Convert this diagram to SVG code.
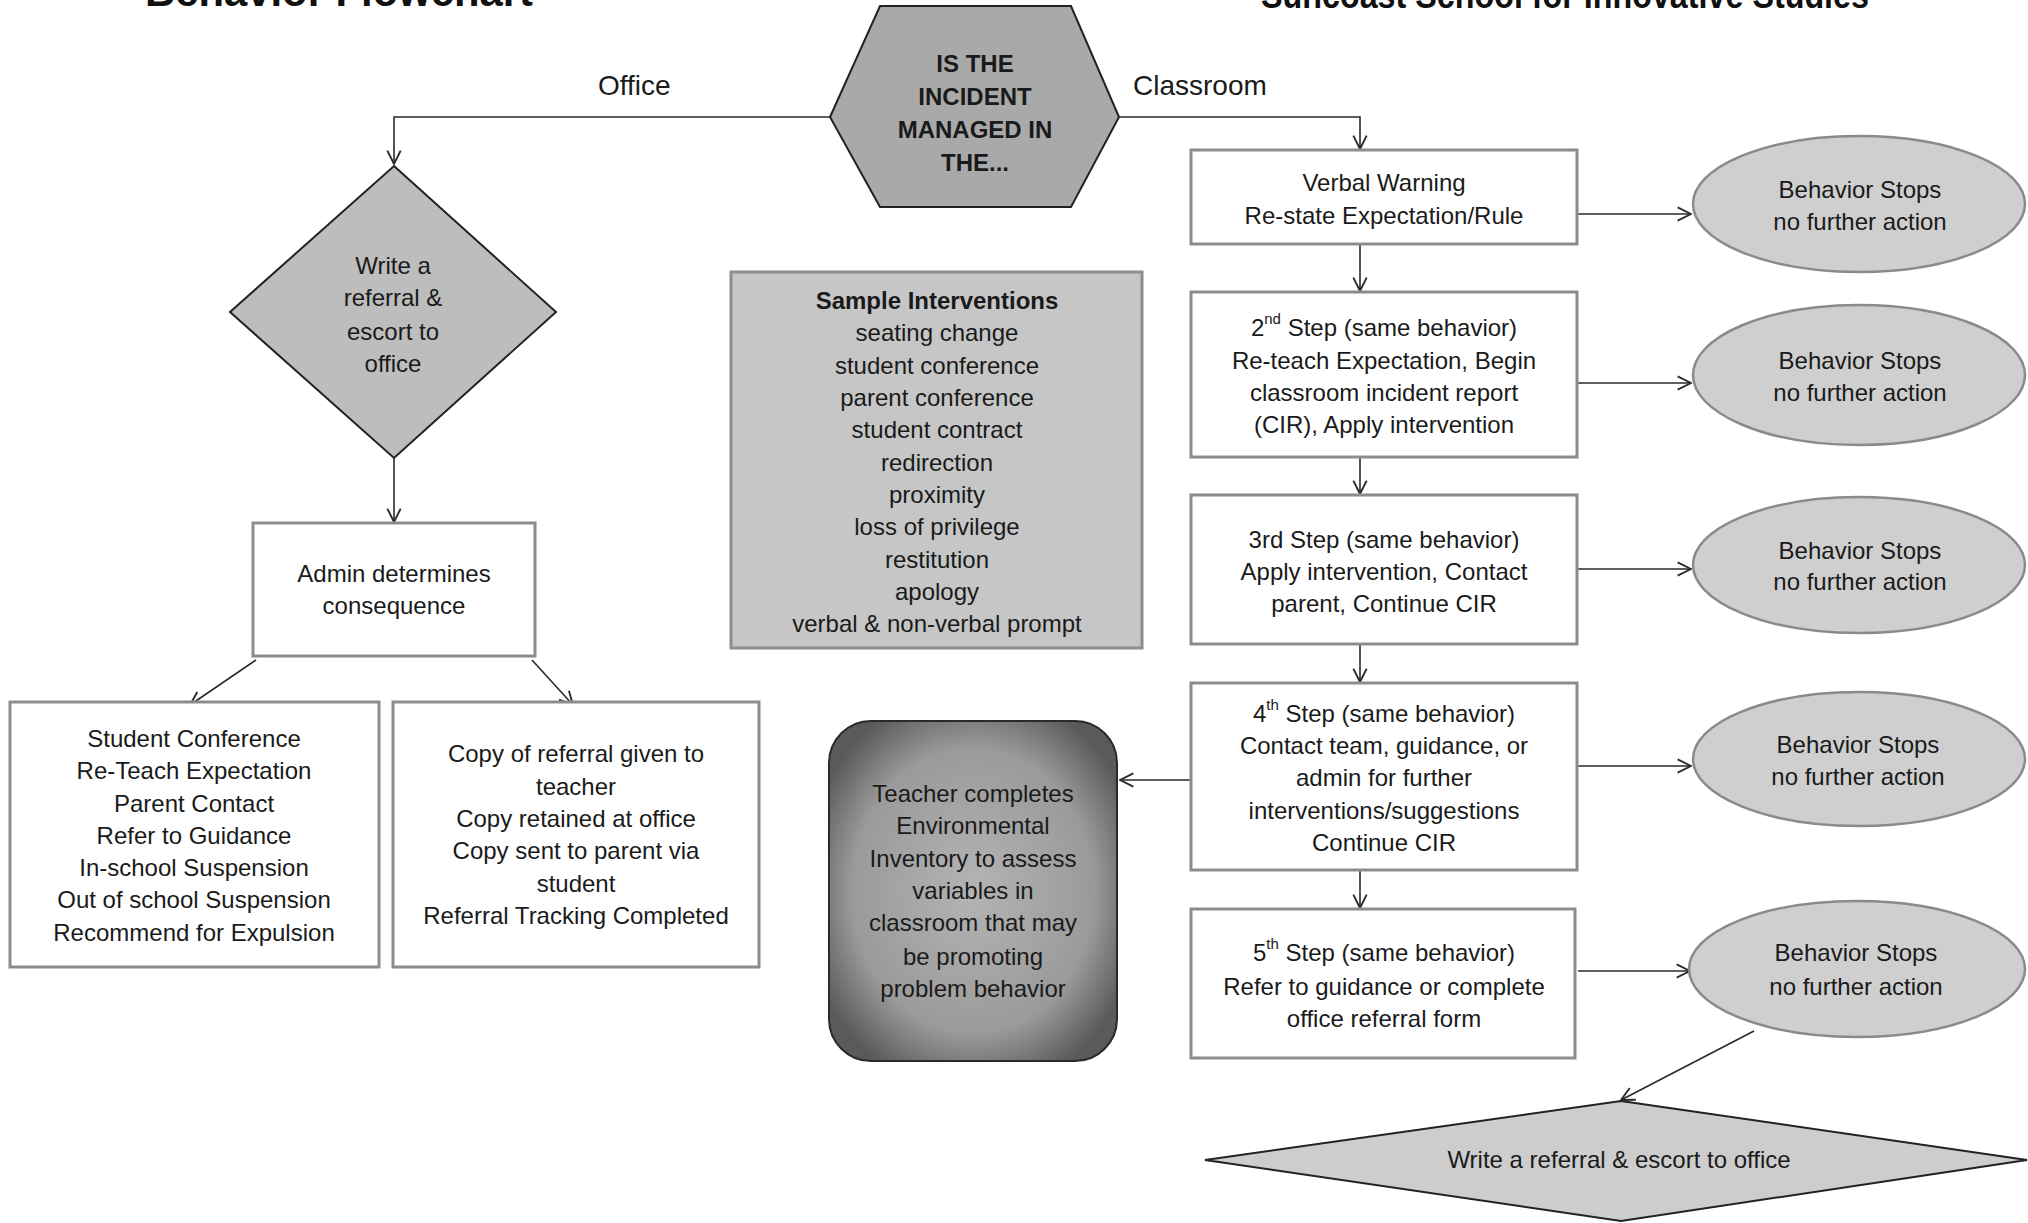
<svg xmlns="http://www.w3.org/2000/svg" width="2028" height="1223" viewBox="0 0 2028 1223">
<defs>
<style>
.t{font-family:"Liberation Sans",Arial,sans-serif;font-size:24px;fill:#1a1a1a;text-anchor:middle;dominant-baseline:central}
.b{font-weight:bold}
.lbl{font-family:"Liberation Sans",Arial,sans-serif;font-size:28px;fill:#1a1a1a}
.title{font-family:"Liberation Sans",Arial,sans-serif;font-weight:bold;fill:#111}
.box{fill:#ffffff;stroke:#8c8c8c;stroke-width:3}
.ell{fill:#cfcfcf;stroke:#8a8a8a;stroke-width:2.5}
.dia{stroke:#222;stroke-width:2}
.con{fill:none;stroke:#2a2a2a;stroke-width:1.6}
</style>
<marker id="ah" viewBox="0 0 12 12" refX="11" refY="6" markerWidth="16" markerHeight="16" markerUnits="userSpaceOnUse" orient="auto">
<path d="M1,1 L11,6 L1,11" fill="none" stroke="#2a2a2a" stroke-width="1.4"/>
</marker>
<radialGradient id="tg" cx="50%" cy="50%" r="60%">
<stop offset="0" stop-color="#b4b4b4"/>
<stop offset="0.7" stop-color="#9a9a9a"/>
<stop offset="1" stop-color="#5a5a5a"/>
</radialGradient>
</defs>
<rect width="2028" height="1223" fill="#ffffff"/>

<g id="titles">
<text class="title" x="145" y="6" font-size="42" textLength="388" lengthAdjust="spacingAndGlyphs">Behavior Flowchart</text>
<text class="title" x="1261" y="8" font-size="36" textLength="608" lengthAdjust="spacingAndGlyphs">Suncoast School for Innovative Studies</text>
</g>

<g id="connectors">
<path class="con" d="M830,117 H394 V164" marker-end="url(#ah)"/>
<path class="con" d="M1119,117 H1360 V149" marker-end="url(#ah)"/>
<path class="con" d="M394,458 V522" marker-end="url(#ah)"/>
<path class="con" d="M256,660 L190,705" marker-end="url(#ah)"/>
<path class="con" d="M532,660 L573,705" marker-end="url(#ah)"/>
<path class="con" d="M1360,245 V291" marker-end="url(#ah)"/>
<path class="con" d="M1360,458 V494" marker-end="url(#ah)"/>
<path class="con" d="M1360,645 V682" marker-end="url(#ah)"/>
<path class="con" d="M1360,871 V908" marker-end="url(#ah)"/>
<path class="con" d="M1578,214 H1691" marker-end="url(#ah)"/>
<path class="con" d="M1578,383 H1691" marker-end="url(#ah)"/>
<path class="con" d="M1578,569 H1691" marker-end="url(#ah)"/>
<path class="con" d="M1578,766 H1691" marker-end="url(#ah)"/>
<path class="con" d="M1578,971 H1690" marker-end="url(#ah)"/>
<path class="con" d="M1190,780 H1120" marker-end="url(#ah)"/>
<path class="con" d="M1754,1031 L1621,1100" marker-end="url(#ah)"/>
<text class="lbl" x="598" y="95">Office</text>
<text class="lbl" x="1133" y="95">Classroom</text>
</g>

<g id="decision-hex">
<polygon class="dia" points="880,6 1071,6 1119,117 1071,207 880,207 830,117" fill="#a9a9a9"/>
<text class="t b" x="975" y="63" font-size="21">IS THE</text>
<text class="t b" x="975" y="96" font-size="21">INCIDENT</text>
<text class="t b" x="975" y="129" font-size="21">MANAGED IN</text>
<text class="t b" x="975" y="162" font-size="21">THE...</text>
</g>

<g id="office-diamond">
<polygon class="dia" points="394,166 556,312 394,458 230,312" fill="#bdbdbd"/>
<text class="t" x="393" y="265">Write a</text>
<text class="t" x="393" y="297">referral &amp;</text>
<text class="t" x="393" y="331">escort to</text>
<text class="t" x="393" y="363">office</text>
</g>

<g id="admin">
<rect class="box" x="253" y="523" width="282" height="133"/>
<text class="t" x="394" y="573">Admin determines</text>
<text class="t" x="394" y="605">consequence</text>
</g>

<g id="consequences">
<rect class="box" x="10" y="702" width="369" height="265"/>
<text class="t" x="194" y="738">Student Conference</text>
<text class="t" x="194" y="770">Re-Teach Expectation</text>
<text class="t" x="194" y="803">Parent Contact</text>
<text class="t" x="194" y="835">Refer to Guidance</text>
<text class="t" x="194" y="867">In-school Suspension</text>
<text class="t" x="194" y="899">Out of school Suspension</text>
<text class="t" x="194" y="932">Recommend for Expulsion</text>
</g>

<g id="referral-copies">
<rect class="box" x="393" y="702" width="366" height="265"/>
<text class="t" x="576" y="753">Copy of referral given to</text>
<text class="t" x="576" y="786">teacher</text>
<text class="t" x="576" y="818">Copy retained at office</text>
<text class="t" x="576" y="850">Copy sent to parent via</text>
<text class="t" x="576" y="883">student</text>
<text class="t" x="576" y="915">Referral Tracking Completed</text>
</g>

<g id="sample-interventions">
<rect x="731" y="272" width="411" height="376" fill="#c6c6c6" stroke="#8c8c8c" stroke-width="3"/>
<text class="t b" x="937" y="300">Sample Interventions</text>
<text class="t" x="937" y="332">seating change</text>
<text class="t" x="937" y="365">student conference</text>
<text class="t" x="937" y="397">parent conference</text>
<text class="t" x="937" y="429">student contract</text>
<text class="t" x="937" y="462">redirection</text>
<text class="t" x="937" y="494">proximity</text>
<text class="t" x="937" y="526">loss of privilege</text>
<text class="t" x="937" y="559">restitution</text>
<text class="t" x="937" y="591">apology</text>
<text class="t" x="937" y="623">verbal &amp; non-verbal prompt</text>
</g>

<g id="step1">
<rect class="box" x="1191" y="150" width="386" height="94"/>
<text class="t" x="1384" y="182">Verbal Warning</text>
<text class="t" x="1384" y="215">Re-state Expectation/Rule</text>
</g>

<g id="step2">
<rect class="box" x="1191" y="292" width="386" height="165"/>
<text class="t" x="1384" y="327">2<tspan font-size="15" dy="-9">nd</tspan><tspan dy="9"> Step (same behavior)</tspan></text>
<text class="t" x="1384" y="360">Re-teach Expectation, Begin</text>
<text class="t" x="1384" y="392">classroom incident report</text>
<text class="t" x="1384" y="424">(CIR), Apply intervention</text>
</g>

<g id="step3">
<rect class="box" x="1191" y="495" width="386" height="149"/>
<text class="t" x="1384" y="539">3rd Step (same behavior)</text>
<text class="t" x="1384" y="571">Apply intervention, Contact</text>
<text class="t" x="1384" y="603">parent, Continue CIR</text>
</g>

<g id="step4">
<rect class="box" x="1191" y="683" width="386" height="187"/>
<text class="t" x="1384" y="713">4<tspan font-size="15" dy="-9">th</tspan><tspan dy="9"> Step (same behavior)</tspan></text>
<text class="t" x="1384" y="745">Contact team, guidance, or</text>
<text class="t" x="1384" y="777">admin for further</text>
<text class="t" x="1384" y="810">interventions/suggestions</text>
<text class="t" x="1384" y="842">Continue CIR</text>
</g>

<g id="step5">
<rect class="box" x="1191" y="909" width="384" height="149"/>
<text class="t" x="1384" y="952">5<tspan font-size="15" dy="-9">th</tspan><tspan dy="9"> Step (same behavior)</tspan></text>
<text class="t" x="1384" y="986">Refer to guidance or complete</text>
<text class="t" x="1384" y="1018">office referral form</text>
</g>

<g id="stop1">
<ellipse class="ell" cx="1859" cy="204" rx="166" ry="68"/>
<text class="t" x="1860" y="189">Behavior Stops</text>
<text class="t" x="1860" y="221">no further action</text>
</g>
<g id="stop2">
<ellipse class="ell" cx="1859" cy="375" rx="166" ry="70"/>
<text class="t" x="1860" y="360">Behavior Stops</text>
<text class="t" x="1860" y="392">no further action</text>
</g>
<g id="stop3">
<ellipse class="ell" cx="1859" cy="565" rx="166" ry="68"/>
<text class="t" x="1860" y="550">Behavior Stops</text>
<text class="t" x="1860" y="581">no further action</text>
</g>
<g id="stop4">
<ellipse class="ell" cx="1859" cy="759" rx="166" ry="67"/>
<text class="t" x="1858" y="744">Behavior Stops</text>
<text class="t" x="1858" y="776">no further action</text>
</g>
<g id="stop5">
<ellipse class="ell" cx="1857" cy="969" rx="168" ry="68"/>
<text class="t" x="1856" y="952">Behavior Stops</text>
<text class="t" x="1856" y="986">no further action</text>
</g>

<g id="environmental-inventory">
<rect x="829" y="721" width="288" height="340" rx="42" ry="42" fill="url(#tg)" stroke="#2a2a2a" stroke-width="2"/>
<text class="t" x="973" y="793">Teacher completes</text>
<text class="t" x="973" y="825">Environmental</text>
<text class="t" x="973" y="858">Inventory to assess</text>
<text class="t" x="973" y="890">variables in</text>
<text class="t" x="973" y="922">classroom that may</text>
<text class="t" x="973" y="956">be promoting</text>
<text class="t" x="973" y="988">problem behavior</text>
</g>

<g id="referral-diamond">
<polygon class="dia" points="1621,1101 2027,1160 1621,1221 1205,1160" fill="#cdcdcd"/>
<text class="t" x="1619" y="1159" font-size="25">Write a referral &amp; escort to office</text>
</g>
</svg>
